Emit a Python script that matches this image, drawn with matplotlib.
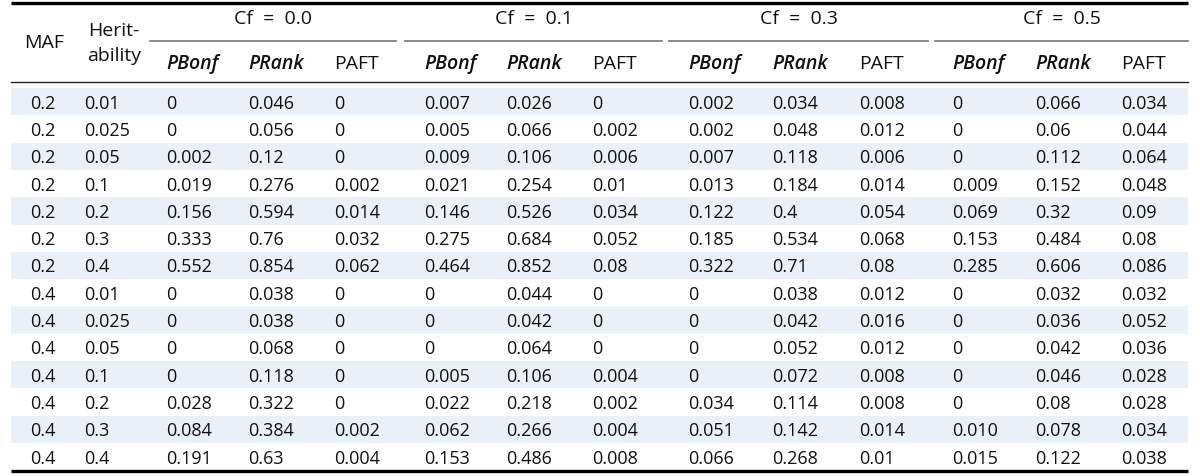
import matplotlib.pyplot as plt
from matplotlib.patches import Rectangle

# Datos de la tabla
maf = ["0.2"] * 7 + ["0.4"] * 7
herit = ["0.01", "0.025", "0.05", "0.1", "0.2", "0.3", "0.4"] * 2
cf_labels = ["Cf  =  0.0", "Cf  =  0.1", "Cf  =  0.3", "Cf  =  0.5"]
sub_labels = ["PBonf", "PRank", "PAFT"]

cf00 = [["0", "0.046", "0"], ["0", "0.056", "0"], ["0.002", "0.12", "0"],
        ["0.019", "0.276", "0.002"], ["0.156", "0.594", "0.014"], ["0.333", "0.76", "0.032"],
        ["0.552", "0.854", "0.062"], ["0", "0.038", "0"], ["0", "0.038", "0"],
        ["0", "0.068", "0"], ["0", "0.118", "0"], ["0.028", "0.322", "0"],
        ["0.084", "0.384", "0.002"], ["0.191", "0.63", "0.004"]]
cf01 = [["0.007", "0.026", "0"], ["0.005", "0.066", "0.002"], ["0.009", "0.106", "0.006"],
        ["0.021", "0.254", "0.01"], ["0.146", "0.526", "0.034"], ["0.275", "0.684", "0.052"],
        ["0.464", "0.852", "0.08"], ["0", "0.044", "0"], ["0", "0.042", "0"],
        ["0", "0.064", "0"], ["0.005", "0.106", "0.004"], ["0.022", "0.218", "0.002"],
        ["0.062", "0.266", "0.004"], ["0.153", "0.486", "0.008"]]
cf03 = [["0.002", "0.034", "0.008"], ["0.002", "0.048", "0.012"], ["0.007", "0.118", "0.006"],
        ["0.013", "0.184", "0.014"], ["0.122", "0.4", "0.054"], ["0.185", "0.534", "0.068"],
        ["0.322", "0.71", "0.08"], ["0", "0.038", "0.012"], ["0", "0.042", "0.016"],
        ["0", "0.052", "0.012"], ["0", "0.072", "0.008"], ["0.034", "0.114", "0.008"],
        ["0.051", "0.142", "0.014"], ["0.066", "0.268", "0.01"]]
cf05 = [["0", "0.066", "0.034"], ["0", "0.06", "0.044"], ["0", "0.112", "0.064"],
        ["0.009", "0.152", "0.048"], ["0.069", "0.32", "0.09"], ["0.153", "0.484", "0.08"],
        ["0.285", "0.606", "0.086"], ["0", "0.032", "0.032"], ["0", "0.036", "0.052"],
        ["0", "0.042", "0.036"], ["0", "0.046", "0.028"], ["0", "0.08", "0.028"],
        ["0.010", "0.078", "0.034"], ["0.015", "0.122", "0.038"]]
groups = [cf00, cf01, cf03, cf05]

plt.rcParams['font.family'] = ['Open Sans', 'DejaVu Sans']
fs = 13
hfs = 14
col = '#111111'

fig = plt.figure(figsize=(12, 4.77), dpi=100)
ax = fig.add_axes([0, 0, 1, 1])
ax.set_xlim(0, 1200)
ax.set_ylim(477, 0)
ax.axis('off')

left, right = 11, 1188
row_top, row_h = 89, 27.3
group_x = [[166, 248, 334], [424, 506, 592], [688, 772, 859], [952, 1035, 1121]]
group_rule = [(150, 396), (405, 662), (669, 928), (935, 1188)]

# filas sombreadas
for i in range(len(maf)):
    if i % 2 == 0:
        ax.add_patch(Rectangle((left, row_top + i * row_h), right - left, row_h,
                               facecolor='#e9f0f8', edgecolor='none'))

# reglas
ax.plot([left, right], [4, 4], color='black', lw=2.4, solid_capstyle='butt')
ax.plot([left, right], [83, 83], color='#222222', lw=1.0)
ax.plot([left, right], [472, 472], color='black', lw=2.4, solid_capstyle='butt')
for x0, x1 in group_rule:
    ax.plot([x0, x1], [42, 42], color='#777777', lw=1.2)

# encabezados
ax.text(24, 43, "MAF", ha='left', va='center', fontsize=hfs, color=col)
ax.text(88, 31, "Herit-", ha='left', va='center', fontsize=hfs, color=col)
ax.text(87, 56, "ability", ha='left', va='center', fontsize=hfs, color=col)
for (x0, x1), lab in zip(group_rule, cf_labels):
    ax.text((x0 + x1) / 2, 19, lab, ha='center', va='center', fontsize=hfs, color=col)
for xs in group_x:
    for x, lab in zip(xs, sub_labels):
        if lab == "PAFT":
            ax.text(x, 64, lab, ha='left', va='center', fontsize=hfs, color=col)
        else:
            ax.text(x, 64, lab, ha='left', va='center', fontsize=hfs, color=col,
                    style='italic', weight='semibold')

# datos
for i in range(len(maf)):
    y = row_top + i * row_h + row_h / 2 + 1
    ax.text(30, y, maf[i], ha='left', va='center', fontsize=fs, color=col)
    ax.text(84, y, herit[i], ha='left', va='center', fontsize=fs, color=col)
    for xs, g in zip(group_x, groups):
        for x, v in zip(xs, g[i]):
            ax.text(x, y, v, ha='left', va='center', fontsize=fs, color=col)

fig.savefig('out.png', dpi=100)
